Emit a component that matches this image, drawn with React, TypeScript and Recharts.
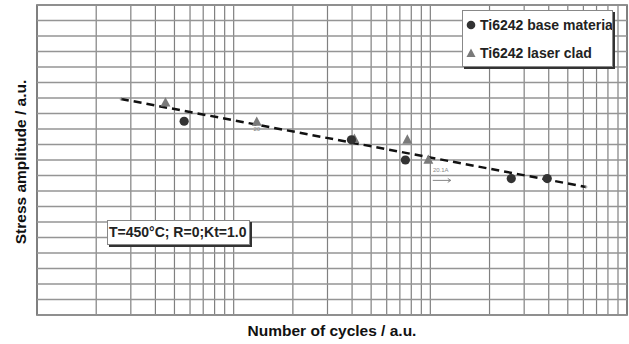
import React from "react";
import { ScatterChart, Scatter, XAxis, YAxis, ReferenceLine, ReferenceArea, ReferenceDot } from "recharts";

// log-spaced cycle grid (a.u.)
const xTicks = [1, 2, 3, 4, 5, 6, 7, 8, 9, 10, 20, 30, 40, 50, 60, 70, 80, 90, 100, 200, 300, 400, 500, 600, 700, 800, 900, 1000];
const yTicks = [0, 1, 2, 3, 4, 5, 6, 7, 8, 9, 10, 11, 12, 13, 14, 15, 16, 17, 18, 19, 20];

const baseMaterial = [
    { x: 5.6, y: 12.5 },
    { x: 39.7, y: 11.3 },
    { x: 74.7, y: 10.0 },
    { x: 258, y: 8.8 },
    { x: 393, y: 8.8 },
];

const laserClad = [
    { x: 4.5, y: 13.7 },
    { x: 13.1, y: 12.45 },
    { x: 41.1, y: 11.35 },
    { x: 76.4, y: 11.3 },
    { x: 97.7, y: 10.0 },
];

const trendLine = [
    { x: 2.67, y: 13.94 },
    { x: 619, y: 8.26 },
];

const FONT = "'Liberation Sans', Arial, sans-serif";

const Dot = (props: any) => <circle cx={props.cx} cy={props.cy} r={4.6} fill="#333" />;

const Tri = (props: any) => {
    const { cx, cy } = props;
    return <polygon points={`${cx},${cy - 5.5} ${cx - 5},${cy + 3.8} ${cx + 5},${cy + 3.8}`} fill="#7a7a7a" />;
};

const EndMark = (props: any) => (
    <g stroke="#999" strokeWidth={0.8}>
        <line x1={props.cx - 1.5} y1={props.cy} x2={props.cx + 1.5} y2={props.cy} />
        <line x1={props.cx} y1={props.cy - 1.5} x2={props.cx} y2={props.cy + 1.5} />
    </g>
);

const SmallNote = (text: string, arrow: boolean) => (props: any) => {
    const { cx, cy } = props;
    return (
        <g fontFamily={FONT} fontSize={6} fill="#888">
            <text x={cx} y={cy} textAnchor="middle">{text}</text>
            {arrow && (
                <g stroke="#888" strokeWidth={1}>
                    <line x1={cx - 8} y1={cy + 8} x2={cx + 10} y2={cy + 8} />
                    <polyline points={`${cx + 7},${cy + 6} ${cx + 10},${cy + 8} ${cx + 7},${cy + 10}`} fill="none" />
                </g>
            )}
        </g>
    );
};

export default function App() {
    return (
        <div style={{ position: "absolute", left: 0, top: 0, width: 629, height: 344, background: "#fff", fontFamily: FONT }}>
            <ScatterChart width={629} height={344} margin={{ top: 5, right: 2, bottom: 29, left: 37 }}>
                <XAxis
                    type="number"
                    dataKey="x"
                    scale="log"
                    domain={[1, 1000]}
                    ticks={xTicks}
                    tick={false}
                    tickLine={false}
                    axisLine={false}
                    height={0}
                    allowDataOverflow
                />
                <YAxis
                    type="number"
                    dataKey="y"
                    domain={[0, 20]}
                    ticks={yTicks}
                    tick={false}
                    tickLine={false}
                    axisLine={false}
                    width={0}
                    allowDataOverflow
                />
                {xTicks.map((t) => (
                    <ReferenceLine key={`vx${t}`} x={t} stroke="#808080" strokeWidth={1.2} ifOverflow="visible" />
                ))}
                {yTicks.map((t) => (
                    <ReferenceLine key={`hy${t}`} y={t} stroke="#959595" strokeWidth={1.4} ifOverflow="visible" />
                ))}
                <ReferenceArea x1={1} x2={1000} y1={0} y2={20} fill="none" stroke="#555" strokeWidth={1.5} ifOverflow="visible" />
                <Scatter
                    data={trendLine}
                    line={{ stroke: "#111", strokeWidth: 2.5, strokeDasharray: "8 5" }}
                    shape={EndMark}
                    isAnimationActive={false}
                />
                <Scatter data={laserClad} shape={Tri} isAnimationActive={false} />
                <Scatter data={baseMaterial} shape={Dot} isAnimationActive={false} />
                <ReferenceDot x={13.1} y={11.85} r={0} shape={SmallNote("20", false)} ifOverflow="visible" />
                <ReferenceDot x={113} y={9.2} r={0} shape={SmallNote("20.1A", true)} ifOverflow="visible" />
            </ScatterChart>

            {/* legend */}
            <div
                style={{
                    position: "absolute",
                    left: 462,
                    top: 10,
                    width: 149,
                    height: 55,
                    border: "1px solid #888",
                    boxShadow: "2px 2px 0 #333",
                    background: "#fff",
                    overflow: "hidden",
                    whiteSpace: "nowrap",
                    fontSize: 14,
                    fontWeight: "bold",
                    color: "#222",
                }}
            >
                <div style={{ position: "absolute", left: 3, top: 6, display: "flex", alignItems: "center" }}>
                    <svg width={10} height={10} style={{ marginRight: 4 }}>
                        <circle cx={5} cy={5} r={4.3} fill="#333" />
                    </svg>
                    Ti6242 base material
                </div>
                <div style={{ position: "absolute", left: 3, top: 34, display: "flex", alignItems: "center" }}>
                    <svg width={10} height={10} style={{ marginRight: 4 }}>
                        <polygon points="5,0.5 0.5,9 9.5,9" fill="#7a7a7a" />
                    </svg>
                    Ti6242 laser clad
                </div>
            </div>

            {/* test conditions */}
            <div
                style={{
                    position: "absolute",
                    left: 107,
                    top: 220,
                    width: 140,
                    height: 23,
                    border: "1px solid #888",
                    boxShadow: "2px 2px 0 #333",
                    background: "#fff",
                    fontSize: 14,
                    fontWeight: "bold",
                    color: "#222",
                    lineHeight: "23px",
                    paddingLeft: 1,
                    boxSizing: "content-box",
                    whiteSpace: "nowrap",
                }}
            >
                T=450°C; R=0;Kt=1.0
            </div>

            <div
                style={{
                    position: "absolute",
                    left: 37,
                    width: 590,
                    top: 322,
                    textAlign: "center",
                    fontSize: 15.5,
                    fontWeight: "bold",
                    color: "#111",
                }}
            >
                Number of cycles / a.u.
            </div>
            <div
                style={{
                    position: "absolute",
                    left: 21,
                    top: 162,
                    transform: "translate(-50%, -50%) rotate(-90deg)",
                    fontSize: 15.5,
                    fontWeight: "bold",
                    color: "#111",
                    whiteSpace: "nowrap",
                }}
            >
                Stress amplitude / a.u.
            </div>
        </div>
    );
}
